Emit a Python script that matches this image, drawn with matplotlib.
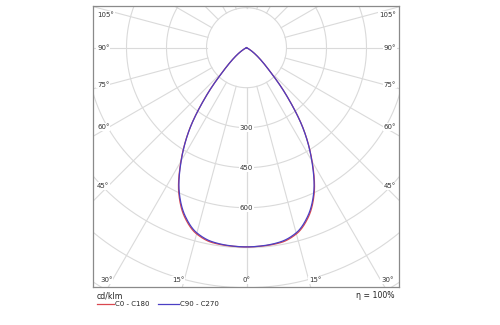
import numpy as np
import matplotlib
matplotlib.use("Agg")
import matplotlib.pyplot as plt
from matplotlib.lines import Line2D

# ---- data (cd/klm vs angle from nadir, symmetric) ----
angles_deg = [0, 5, 10, 15, 20, 25, 30, 35, 40, 45, 50, 55, 60, 65, 70, 90]
c0_c180 = [747, 746, 742, 723, 677, 601, 492, 372, 233, 122, 66, 33, 12, 3, 0, 0]
c90_c270 = [747, 745, 739, 719, 672, 597, 490, 371, 232, 121, 66, 33, 12, 3, 0, 0]
series_labels = ["C0 - C180", "C90 - C270"]
series_colors = ["#d9474f", "#4a3fc4"]

ring_values = [150, 300, 450, 600, 750, 900, 1050, 1200]
ring_labels = [300, 450, 600]
spoke_angles = list(range(0, 181, 15))

side_labels = [105, 90, 75, 60, 45]
bottom_labels = [30, 15, 0, 15, 30]


def pchip(xk, yk, xq):
    xk = np.asarray(xk, float)
    yk = np.asarray(yk, float)
    h = np.diff(xk)
    d = np.diff(yk) / h
    n = len(xk)
    m = np.zeros(n)
    for k in range(1, n - 1):
        if d[k - 1] * d[k] <= 0:
            m[k] = 0
        else:
            w1 = 2 * h[k] + h[k - 1]
            w2 = h[k] + 2 * h[k - 1]
            m[k] = (w1 + w2) / (w1 / d[k - 1] + w2 / d[k])
    m[0] = 0.0
    m[-1] = 0.0
    idx = np.clip(np.searchsorted(xk, xq) - 1, 0, n - 2)
    t = (xq - xk[idx]) / h[idx]
    h00 = 2 * t**3 - 3 * t**2 + 1
    h10 = t**3 - 2 * t**2 + t
    h01 = -2 * t**3 + 3 * t**2
    h11 = t**3 - t**2
    return h00 * yk[idx] + h10 * h[idx] * m[idx] + h01 * yk[idx + 1] + h11 * h[idx] * m[idx + 1]


fig = plt.figure(figsize=(5, 3.25), dpi=100)
ax = fig.add_axes([93.3 / 500, 37.7 / 325, 306 / 500, 281.3 / 325])
ax.set_xlim(-574.5, 573)
ax.set_ylim(-898.5, 156.4)
ax.set_xticks([])
ax.set_yticks([])
for s in ax.spines.values():
    s.set_color("#8a8a8a")
    s.set_linewidth(0.9)

grid_col = "#dadada"
t = np.linspace(0, 2 * np.pi, 721)
for rv in ring_values:
    ax.plot(rv * np.sin(t), rv * np.cos(t), color=grid_col, lw=0.8, zorder=1)
for a in spoke_angles:
    th = np.deg2rad(a)
    for sgn in (1, -1):
        r = np.array([150, 1400])
        ax.plot(sgn * r * np.sin(th), -r * np.cos(th), color=grid_col, lw=0.8, zorder=1)


def full_curve(vals):
    fine = np.linspace(0, 90, 721)
    vf = np.clip(pchip(angles_deg, vals, fine), 0, None)
    th = np.concatenate([-fine[::-1], fine[1:]])
    rr = np.concatenate([vf[::-1], vf[1:]])
    thr = np.deg2rad(th)
    return rr * np.sin(thr), -rr * np.cos(thr)


for vals, col, z in [(c0_c180, series_colors[0], 3), (c90_c270, series_colors[1], 4)]:
    x, y = full_curve(vals)
    ax.plot(x, y, color=col, lw=0.9, zorder=z)

fs = 5
bb = dict(facecolor="white", edgecolor="none", pad=0.6)
for v in ring_labels:
    ax.text(0, -v, str(v), ha="center", va="center", fontsize=fs, color="#333333", bbox=bb, zorder=5)

side_y = [122.6, 0, -138, -297, -518]
for lab, yy in zip(side_labels, side_y):
    ax.text(-560, yy, f"{lab}°", ha="left", va="center", fontsize=fs, color="#333333", bbox=bb, zorder=5)
    ax.text(560, yy, f"{lab}°", ha="right", va="center", fontsize=fs, color="#333333", bbox=bb, zorder=5)

bottom_x = [-549, -256, 0, 257, 551]
bottom_ha = ["left", "center", "center", "center", "right"]
for lab, xx, ha in zip(bottom_labels, bottom_x, bottom_ha):
    ax.text(xx, -871, f"{lab}°", ha=ha, va="center", fontsize=fs, color="#333333", bbox=bb, zorder=5)

fig.text(96.5 / 500, 1 - 296 / 325, "cd/klm", ha="left", va="center", fontsize=5.6, color="#222222")
fig.text(394 / 500, 1 - 296 / 325, "η = 100%", ha="right", va="center", fontsize=5.6, color="#222222")
ly = 1 - 304 / 325
fig.add_artist(Line2D([96.7 / 500, 113.5 / 500], [ly, ly], color=series_colors[0], lw=0.9))
fig.text(115 / 500, ly, series_labels[0], ha="left", va="center", fontsize=5, color="#222222")
fig.add_artist(Line2D([158 / 500, 178.5 / 500], [ly, ly], color=series_colors[1], lw=0.9))
fig.text(180 / 500, ly, series_labels[1], ha="left", va="center", fontsize=5, color="#222222")

fig.savefig("out.png", dpi=100)
